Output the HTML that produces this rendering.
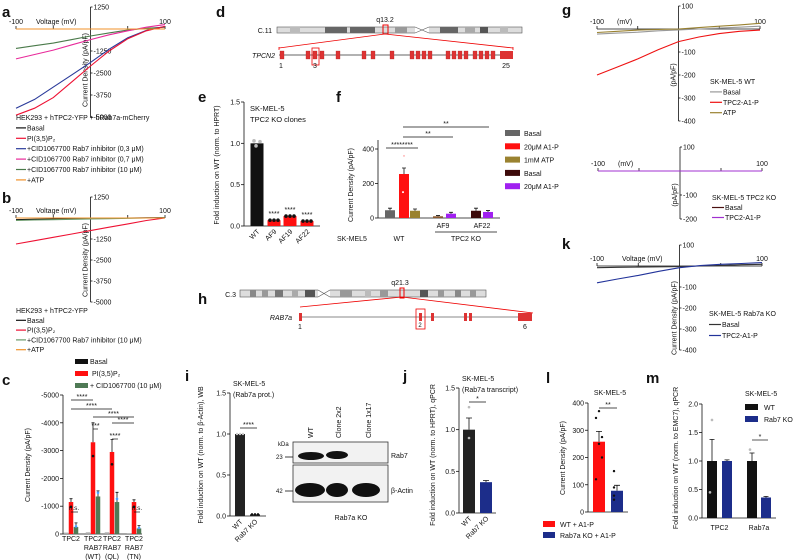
<!DOCTYPE html>
<html><head><meta charset="utf-8"><style>
html,body{margin:0;padding:0;background:#fff}
svg{display:block;font-family:"Liberation Sans",Arial,sans-serif}
text{fill:#111}
</style></head><body>
<svg id="fig" width="799" height="560" viewBox="0 0 799 560" xmlns="http://www.w3.org/2000/svg">
<g id="static">
<text x="2" y="17" font-size="15" font-weight="bold">a</text>
<text x="2" y="203" font-size="15" font-weight="bold">b</text>
<text x="2" y="385" font-size="15" font-weight="bold">c</text>
<text x="216" y="17" font-size="15" font-weight="bold">d</text>
<text x="198" y="102" font-size="15" font-weight="bold">e</text>
<text x="336" y="102" font-size="15" font-weight="bold">f</text>
<text x="562" y="15" font-size="15" font-weight="bold">g</text>
<text x="198" y="304" font-size="15" font-weight="bold">h</text>
<text x="185" y="381" font-size="15" font-weight="bold">i</text>
<text x="403" y="381" font-size="15" font-weight="bold">j</text>
<text x="562" y="249" font-size="15" font-weight="bold">k</text>
<text x="546" y="383" font-size="15" font-weight="bold">l</text>
<text x="646" y="383" font-size="15" font-weight="bold">m</text>

<g>
<text x="272" y="33" font-size="7" text-anchor="end">C.11</text>
<rect x="277" y="27" width="245" height="6" fill="#ddd" stroke="#555" stroke-width="0.6"/>
<rect x="290" y="27" width="10" height="6" fill="#bbb"/><rect x="325" y="27" width="22" height="6" fill="#666"/>
<rect x="350" y="27" width="25" height="6" fill="#666"/><rect x="395" y="27" width="12" height="6" fill="#999"/>
<rect x="440" y="27" width="18" height="6" fill="#666"/><rect x="465" y="27" width="10" height="6" fill="#aaa"/>
<rect x="480" y="27" width="8" height="6" fill="#555"/><rect x="500" y="27" width="8" height="6" fill="#bbb"/>
<rect x="415" y="26" width="14" height="8" fill="#fff"/>
<path d="M415 27 L429 33 M415 33 L429 27" stroke="#555" stroke-width="0.6"/>
<rect x="383" y="25" width="5" height="9" fill="none" stroke="#e00" stroke-width="1"/>
<text x="385" y="22" font-size="7" text-anchor="middle">q13.2</text>
<path d="M385 34 L279 48 M385 34 L513 48" stroke="#e00" stroke-width="0.8" fill="none"/>
<path d="M279 47 L279 50 M513 47 L513 50" stroke="#e00" stroke-width="0.8"/>
</g>
<text x="275" y="58" font-size="7" font-style="italic" text-anchor="end">TPCN2</text>
<g id="tpcn2"><line x1="279" y1="55" x2="513" y2="55" stroke="#666" stroke-width="1"/></g>
<rect x="312" y="48" width="7" height="17" fill="none" stroke="#e00" stroke-width="0.8"/>
<text x="281" y="68" font-size="7" text-anchor="middle">1</text><text x="315" y="68" font-size="7" text-anchor="middle">3</text><text x="506" y="68" font-size="7" text-anchor="middle">25</text>

<g>
<text x="236" y="297" font-size="7" text-anchor="end">C.3</text>
<rect x="240" y="290" width="246" height="7" fill="#ddd" stroke="#555" stroke-width="0.6"/>
<rect x="250" y="290" width="6" height="7" fill="#888"/><rect x="262" y="290" width="6" height="7" fill="#999"/>
<rect x="275" y="290" width="8" height="7" fill="#777"/><rect x="292" y="290" width="6" height="7" fill="#aaa"/>
<rect x="305" y="290" width="10" height="7" fill="#555"/><rect x="340" y="290" width="12" height="7" fill="#999"/>
<rect x="365" y="290" width="6" height="7" fill="#bbb"/><rect x="380" y="290" width="8" height="7" fill="#999"/>
<rect x="420" y="290" width="8" height="7" fill="#555"/><rect x="438" y="290" width="6" height="7" fill="#999"/>
<rect x="455" y="290" width="6" height="7" fill="#888"/><rect x="470" y="290" width="6" height="7" fill="#999"/>
<rect x="318" y="289" width="12" height="9" fill="#fff"/>
<path d="M318 290 L330 297 M318 297 L330 290" stroke="#555" stroke-width="0.6"/>
<rect x="400" y="288" width="4" height="10" fill="none" stroke="#e00" stroke-width="1"/>
<text x="400" y="285" font-size="7" text-anchor="middle">q21.3</text>
<path d="M402 297 L300 307 M402 297 L533 313" stroke="#e00" stroke-width="0.8" fill="none"/>
</g>
<text x="292" y="320" font-size="7" font-style="italic" text-anchor="end">RAB7a</text>
<line x1="300" y1="317" x2="532" y2="317" stroke="#888" stroke-width="1"/>
<rect x="299" y="313" width="3" height="8" fill="#d33"/><rect x="419" y="313" width="3" height="8" fill="#d33"/>
<rect x="431" y="313" width="3" height="8" fill="#d33"/><rect x="464" y="313" width="3" height="8" fill="#d33"/>
<rect x="469" y="313" width="3" height="8" fill="#d33"/><rect x="518" y="313" width="14" height="8" fill="#d33"/>
<rect x="416" y="309" width="9" height="20" fill="none" stroke="#e00" stroke-width="0.8"/>
<text x="300" y="329" font-size="7" text-anchor="middle">1</text><text x="420" y="327" font-size="6" text-anchor="middle">2</text><text x="525" y="329" font-size="7" text-anchor="middle">6</text>

<g>
<rect x="293" y="442" width="95" height="21" fill="#f2f2f2" stroke="#333" stroke-width="0.8"/>
<rect x="293" y="465" width="95" height="37" fill="#f2f2f2" stroke="#333" stroke-width="0.8"/>
<ellipse cx="311" cy="456" rx="13" ry="4" fill="#111"/><ellipse cx="337" cy="455" rx="11" ry="4" fill="#111"/>
<ellipse cx="310" cy="490" rx="15" ry="7" fill="#111"/><ellipse cx="337" cy="490" rx="11" ry="7" fill="#111"/><ellipse cx="366" cy="490" rx="14" ry="7" fill="#111"/>
<text x="278" y="446" font-size="6">kDa</text>
<text x="276" y="459" font-size="6">23</text><line x1="285" y1="457" x2="293" y2="457" stroke="#111" stroke-width="0.8"/>
<text x="276" y="493" font-size="6">42</text><line x1="285" y1="491" x2="293" y2="491" stroke="#111" stroke-width="0.8"/>
<text x="391" y="458" font-size="7">Rab7</text><text x="391" y="493" font-size="7">β-Actin</text>
<text x="351" y="520" font-size="7" text-anchor="middle">Rab7a KO</text>
<text transform="translate(313,438) rotate(-90)" font-size="7">WT</text>
<text transform="translate(341,438) rotate(-90)" font-size="7">Clone 2x2</text>
<text transform="translate(371,438) rotate(-90)" font-size="7">Clone 1x17</text>
</g>
</g>
<g id="dyn"></g>
</svg>
<script>
const ivVoltage = [-100,-75,-50,-25,0,25,50,75,100];
const aBasal = [0,0,0,0,0,0,0,0,0];
const aPI = [-4900,-4500,-3900,-3000,-2100,-1250,-550,-100,150];
const aCid03 = [-4500,-4000,-3300,-2600,-1900,-1150,-500,-80,150];
const aCid07 = [-1700,-1450,-1200,-900,-600,-330,-100,100,250];
const aCid10 = [-1100,-950,-800,-600,-400,-220,-60,40,100];
const aATP = [0,0,0,0,0,0,0,0,0];
const bBasal = [-100,-80,-60,-40,-20,-10,0,10,20];
const bPI = [-1550,-1350,-1150,-950,-750,-550,-350,-150,0];
const bCid = [-150,-120,-100,-80,-60,-40,-20,0,10];
const bATP = [0,0,0,0,0,0,0,0,0];
const gBasal = [-22,-18,-14,-8,-4,0,4,8,12];
const gA1P = [-200,-165,-130,-90,-55,-35,-20,-10,-5];
const gATP = [-15,-10,-5,-2,0,6,12,18,25];
const g2Basal = [0,0,0,0,0,0,0,0,0];
const g2A1P = [0,0,0,0,0,0,0,0,0];
const kBasal = [-8,-6,-5,-4,-3,0,3,6,8];
const kA1P = [-80,-62,-45,-25,-8,2,8,12,16];

const cGroups = ["TPC2","TPC2|RAB7|(WT)","TPC2|RAB7|(QL)","TPC2|RAB7|(TN)"];
const cBasal = [50,60,60,30];
const cPI = [1150,3300,2950,1150];
const cCid = [250,1350,1150,200];
const cPIerr = [120,700,450,80];
const cCidErr = [150,200,350,100];
const cTicks = [0,-1000,-2000,-3000,-4000,-5000];

const eCats = ["WT","AF9","AF19","AF22"];
const eVals = [1.0,0.07,0.12,0.06];
const eTicks = ["0.0","0.5","1.0","1.5"];

const fCats = ["WT","AF9","AF22"];
const fVals = [[45,255,42],[10,25],[42,35]];
const fErr = [[12,35,10],[4,8],[15,8]];
const fTicks = [0,200,400];

const iCats = ["WT","Rab7 KO"];
const iVals = [1.0,0.02];
const jCats = ["WT","Rab7 KO"];
const jVals = [1.0,0.37];
const jErr = [0.14,0.02];
const lVals = [258,78];
const lErr = [38,20];
const lTicks = [0,100,200,300,400];
const mCats = ["TPC2","Rab7a"];
const mWT = [1.0,1.0];
const mKO = [1.0,0.36];
const mWTerr = [0.38,0.14];
const mKOerr = [0.02,0.02];
const mTicks = ["0.0","0.5","1.0","1.5","2.0"];

const NS="http://www.w3.org/2000/svg";
const root=document.getElementById('dyn');
function mk(tag,attrs,parent){const e=document.createElementNS(NS,tag);for(const k in attrs)e.setAttribute(k,attrs[k]);(parent||root).appendChild(e);return e;}
function txt(x,y,s,size,anchor,extra){const t=mk('text',Object.assign({x:x,y:y,'font-size':size||7,'text-anchor':anchor||'start'},extra||{}));t.textContent=s;return t;}
function lin(a,b,c,d){return (v)=>c+(v-a)*(d-c)/(b-a);}

function ivPanel(o){
  const X=lin(-100,100,o.x0,o.x1), Y=lin(0,o.ymax,o.y0,o.ytop);
  const ax=mk('g',{});
  
  
  mk('line',{x1:X(-100),y1:o.y0,x2:X(100),y2:o.y0,stroke:'#111','stroke-width':0.8},ax);
  mk('line',{x1:X(0),y1:Y(o.ymax),x2:X(0),y2:Y(o.ymin),stroke:'#111','stroke-width':0.8},ax);
  [-100,-50,50,100].forEach(v=>mk('line',{x1:X(v),y1:o.y0,x2:X(v),y2:o.y0-3,stroke:'#111','stroke-width':0.8},ax));
  o.yticks.forEach(v=>{mk('line',{x1:X(0),y1:Y(v),x2:X(0)+2,y2:Y(v),stroke:'#111','stroke-width':0.8},ax);
    const t=txt(X(0)+3,Y(v)+2.5,String(v),7);
    
    });
  txt(X(-100),o.y0-5,'-100',7,'middle');
  txt(X(100),o.y0-5,'100',7,'middle');
  txt(o.vx,o.y0-5,o.vlabel,7,'start');
  if(o.ytitle){const t=txt(0,0,o.ytitle,7,'middle',{transform:`translate(${X(0)-3},${o.ytc}) rotate(-90)`});
    
    }
  o.series.forEach(s=>{
    const d=ivVoltage.map((v,i)=>(i?'L':'M')+X(v).toFixed(1)+' '+Y(s.v[i]).toFixed(1)).join(' ');
    const p=mk('path',{d:d,fill:'none',stroke:s.c,'stroke-width':1.1});
    
    
  });
}
ivPanel({name:'a',x0:16,x1:165,y0:29,ytop:7,ymax:1250,ymin:-5000,yticks:[1250,-1250,-2500,-3750,-5000],vx:36,vlabel:'Voltage (mV)',ytitle:'Current Density (pA/pF)',ytc:70,
 series:[{n:'basal',c:'#111',v:aBasal},{n:'cid10',c:'#4a7a4a',v:aCid10},{n:'cid07',c:'#e8299a',v:aCid07},{n:'cid03',c:'#2a3a9a',v:aCid03},{n:'pi',c:'#ee1133',v:aPI},{n:'atp',c:'#f0922a',v:aATP}]});
ivPanel({name:'b',x0:16,x1:165,y0:218,ytop:197,ymax:1250,ymin:-5000,yticks:[1250,-1250,-2500,-3750,-5000],vx:36,vlabel:'Voltage (mV)',ytitle:'Current Density (pA/pF)',ytc:260,
 series:[{n:'basal',c:'#111',v:bBasal},{n:'cid',c:'#6a9a6a',v:bCid},{n:'pi',c:'#ee1133',v:bPI},{n:'atp',c:'#f0922a',v:bATP}]});
ivPanel({name:'g-wt',x0:597,x1:760,y0:29,ytop:6,ymax:100,ymin:-400,yticks:[100,-100,-200,-300,-400],vx:617,vlabel:'(mV)',ytitle:'(pA/pF)',ytc:75,
 series:[{n:'basal',c:'#999',v:gBasal},{n:'a1p',c:'#ee1111',v:gA1P},{n:'atp',c:'#9a8230',v:gATP}]});
ivPanel({name:'g-ko',x0:598,x1:762,y0:171,ytop:147,ymax:100,ymin:-200,yticks:[100,-100,-200],vx:618,vlabel:'(mV)',ytitle:'(pA/pF)',ytc:195,
 series:[{n:'basal',c:'#4a1010',v:g2Basal},{n:'a1p',c:'#a030d0',v:g2A1P}]});
ivPanel({name:'k',x0:597,x1:762,y0:266,ytop:245,ymax:100,ymin:-400,yticks:[100,-100,-200,-300,-400],vx:622,vlabel:'Voltage (mV)',ytitle:'Current Density (pA/pF)',ytc:318,
 series:[{n:'basal',c:'#333',v:kBasal},{n:'a1p',c:'#22339a',v:kA1P}]});

function lineLegend(x,y,title,items,dy,lw){
  if(title)txt(x,y,title,7);
  items.forEach((it,i)=>{const yy=y+(i+1)*dy;
    const l=mk('line',{x1:x,y1:yy-2.5,x2:x+lw,y2:yy-2.5,stroke:it[1],'stroke-width':1.2});
    
    
    const t=txt(x+lw+1,yy,it[0],7);
    
    });
}
lineLegend(16,120,'HEK293 + hTPC2-YFP + hRab7a-mCherry',[['Basal','#111'],['PI(3,5)P₂','#ee1133'],['+CID1067700 Rab7 inhibitor (0,3 μM)','#2a3a9a'],['+CID1067700 Rab7 inhibitor (0,7 μM)','#e8299a'],['+CID1067700 Rab7 inhibitor (10 μM)','#4a7a4a'],['+ATP','#f0922a']],10.4,10);
lineLegend(16,313,'HEK293 + hTPC2-YFP',[['Basal','#111'],['PI(3,5)P₂','#ee1133'],['+CID1067700 Rab7 inhibitor (10 μM)','#6a9a6a'],['+ATP','#f0922a']],9.8,10);
lineLegend(710,84,'SK-MEL-5 WT',[['Basal','#999'],['TPC2-A1-P','#ee1111'],['ATP','#9a8230']],10.4,12);
lineLegend(712,200,'SK-MEL-5 TPC2 KO',[['Basal','#4a1010'],['TPC2-A1-P','#a030d0']],10,12);
lineLegend(709,316,'SK-MEL-5 Rab7a KO',[['Basal','#333'],['TPC2-A1-P','#22339a']],11,12);

function yAxis(x,y0,y1,ticks,labels,name){
  mk('line',{x1:x,y1:y0,x2:x,y2:y1,stroke:'#111','stroke-width':0.8});
  ticks.forEach((yy,i)=>{mk('line',{x1:x-3,y1:yy,x2:x,y2:yy,stroke:'#111','stroke-width':0.8});
    const t=txt(x-4,yy+2.5,labels[i],7,'end');
    
    });
}
function bar(x,w,y,yb,fill,name){const r=mk('rect',{x:x-w/2,y:Math.min(y,yb),width:w,height:Math.abs(yb-y),fill:fill});
  
  return r;}
function err(x,y,e,w){mk('path',{d:`M${x} ${y} L${x} ${e} M${x-w} ${e} L${x+w} ${e}`,stroke:'#111','stroke-width':0.8,fill:'none'});}
function sig(x1,x2,y,s){mk('line',{x1:x1,y1:y,x2:x2,y2:y,stroke:'#111','stroke-width':0.7});txt((x1+x2)/2,y-1,s,7,'middle');}
function rot(x,y,s,ang,size,anchor){return txt(0,0,s,size||7,anchor||'end',{transform:`translate(${x},${y}) rotate(${ang})`});}

(function(){
  const Y=lin(0,-5000,534,395);
  yAxis(63,395,534,cTicks.map(Y),cTicks.map(String),'c');
  mk('line',{x1:63,y1:534,x2:142,y2:534,stroke:'#111','stroke-width':0.8});
  const t=rot(30,465,'Current Density (pA/pF)',-90,7,'middle');
  
  
  const cx=[71,93,112,134];
  cGroups.forEach((g,i)=>{
    bar(cx[i]-5,4.5,Y(-cBasal[i]),534,'#aaa','c-bar-basal');
    bar(cx[i],4.5,Y(-cPI[i]),534,'#ff1010','c-bar-pi');
    bar(cx[i]+5,4.5,Y(-cCid[i]),534,'#4f7a55','c-bar-cid');
    err(cx[i],Y(-cPI[i]),Y(-cPI[i]-cPIerr[i]),1.5);
    err(cx[i]+5,Y(-cCid[i]),Y(-cCid[i]-cCidErr[i]),1.5);
    mk('circle',{cx:cx[i],cy:Y(-cPI[i]*0.85),r:1.3,fill:'#111'});
    mk('circle',{cx:cx[i]+5,cy:Y(-cCid[i]*1.1),r:1.3,fill:'#4aa0ff'});
    g.split('|').forEach((s,k)=>txt(cx[i],541+k*9,s,7,'middle'));
  });
  txt(74,510,'n.s.',6.5,'middle'); mk('line',{x1:71,y1:512,x2:78,y2:512,stroke:'#111','stroke-width':0.7});
  txt(137,510,'n.s.',6.5,'middle'); mk('line',{x1:134,y1:512,x2:140,y2:512,stroke:'#111','stroke-width':0.7});
  sig(71,93,400,'****');sig(71,112,409,'****');sig(93,134,417,'****');sig(112,134,423,'****');
  sig(93,98,429,'***');sig(112,118,439,'****');
  [['Basal','#111',364],['PI(3,5)P₂','#ff1010',376],['+ CID1067700 (10 μM)','#4f7a55',388]].forEach(l=>{
    const r=mk('rect',{x:75,y:l[2]-5,width:13,height:5,fill:l[1]});
    
    
    txt(l[0]==='PI(3,5)P₂'?92:90,l[2],l[0],7);});
})();

(function(){
  const g=document.getElementById('tpcn2');
  [282,308,315,322,338,364,373,392,412,418,424,430,448,454,460,466,475,481,487,493].forEach(x=>mk('rect',{x:x-2,y:51,width:4,height:8,fill:'#d33',stroke:'#a22','stroke-width':0.3},g));
  mk('rect',{x:500,y:51,width:13,height:8,fill:'#d33'},g);
})();

(function(){
  const Y=lin(0,1.5,226,102);
  yAxis(244,102,226,[0,0.5,1,1.5].map(Y),eTicks,'e');
  mk('line',{x1:244,y1:226,x2:320,y2:226,stroke:'#111','stroke-width':0.8});
  const cx=[257,274,290,307];
  eCats.forEach((c,i)=>{
    bar(cx[i],13,Y(eVals[i]),226,i?'#ff1010':'#111','e-bar-'+c);
    if(i){txt(cx[i],Y(eVals[i])-4,'****',7,'middle');
      [-4,0,4].forEach(d=>mk('circle',{cx:cx[i]+d,cy:Y(eVals[i]),r:1.8,fill:'#111'}));}
    else{mk('circle',{cx:254,cy:Y(1.03),r:1.8,fill:'#bbb'});mk('circle',{cx:260,cy:Y(1.02),r:1.8,fill:'#bbb'});mk('circle',{cx:256,cy:Y(0.97),r:1.8,fill:'#bbb'});}
    rot(cx[i]+3,232,c,-45,7,'end');
  });
  txt(250,111,'SK-MEL-5',7.5);txt(250,122,'TPC2 KO clones',7.5);
  const t=rot(219,165,'Fold induction on WT (norm. to HPRT)',-90,7,'middle');
  
  
})();

(function(){
  const Y=lin(0,400,218,149);
  yAxis(378,140,218,fTicks.map(Y),fTicks.map(String),'f');
  mk('line',{x1:378,y1:218,x2:500,y2:218,stroke:'#111','stroke-width':0.8});
  const cols=[['#666','#ff1010','#9a8230'],['#8a5a30','#a020f0'],['#3d0a0a','#a020f0']];
  const xs=[[390,404,415],[438,451],[476,488]];
  fCats.forEach((c,i)=>{fVals[i].forEach((v,k)=>{
    bar(xs[i][k],10,Y(v),218,cols[i][k],'f-bar-'+c+'-'+k);
    err(xs[i][k],Y(v),Y(v+fErr[i][k]),2);});});
  mk('circle',{cx:404,cy:Y(360),r:1,fill:'#fbb'});mk('circle',{cx:403,cy:Y(150),r:1,fill:'#fff'});
  txt(443,228,'AF9',7,'middle');txt(482,228,'AF22',7,'middle');
  mk('line',{x1:435,y1:232,x2:497,y2:232,stroke:'#111','stroke-width':0.7});
  txt(337,241,'SK-MEL5',7);txt(399,241,'WT',7,'middle');txt(466,241,'TPC2 KO',7,'middle');
  sig(386,418,148,'********');sig(403,453,137,'**');sig(403,489,127,'**');
  const t=rot(353,185,'Current Density (pA/pF)',-90,7,'middle');
  
  
  [['Basal','#666'],['20μM A1-P','#ff1010'],['1mM ATP','#9a8230'],['Basal','#3d0a0a'],['20μM A1-P','#a020f0']].forEach((l,i)=>{
    const y=136+i*13.3;
    const r=mk('rect',{x:505,y:y-6,width:15,height:6,fill:l[1]});
    
    
    txt(524,y,l[0],7);});
})();

(function(){
  const Y=lin(0,1.5,516,393);
  yAxis(230,393,516,[0,0.5,1,1.5].map(Y),['0.0','0.5','1.0','1.5'],'i');
  mk('line',{x1:230,y1:516,x2:266,y2:516,stroke:'#111','stroke-width':0.8});
  const cx=[240,255];
  iCats.forEach((c,i)=>{bar(cx[i],10,Y(iVals[i]),516,'#222','i-bar-'+c);rot(cx[i]+3,522,c,-45,7,'end');
    [-3,0,3].forEach(d=>mk('circle',{cx:cx[i]+d,cy:Y(iVals[i]),r:1.2,fill:i?'#111':'#ccc'}));});
  sig(240,257,428,'****');
  txt(233,386,'SK-MEL-5',7);txt(233,397,'(Rab7a prot.)',7);
  const t=rot(203,455,'Fold induction on WT (norm. to β-Actin), WB',-90,7,'middle');
  
  
})();

(function(){
  const Y=lin(0,1.5,513,388);
  yAxis(459,388,513,[0,0.5,1,1.5].map(Y),['0.0','0.5','1.0','1.5'],'j');
  mk('line',{x1:459,y1:513,x2:496,y2:513,stroke:'#111','stroke-width':0.8});
  const cx=[469,486],cols=['#222','#1c2d8a'];
  jCats.forEach((c,i)=>{bar(cx[i],12,Y(jVals[i]),513,cols[i],'j-bar-'+c);err(cx[i],Y(jVals[i]),Y(jVals[i]+jErr[i]),3);rot(cx[i]+3,519,c,-45,7,'end');});
  mk('circle',{cx:469,cy:Y(1.27),r:1.3,fill:'#bbb'});mk('circle',{cx:469,cy:Y(0.9),r:1.3,fill:'#bbb'});
  sig(469,486,402,'*');
  txt(462,381,'SK-MEL-5',7);txt(462,392,'(Rab7a transcript)',7);
  const t=rot(435,455,'Fold induction on WT (norm. to HPRT), qPCR',-90,7,'middle');
  
  
})();

(function(){
  const Y=lin(0,400,512,403);
  yAxis(588,403,512,lTicks.map(Y),lTicks.map(String),'l');
  mk('line',{x1:588,y1:512,x2:628,y2:512,stroke:'#111','stroke-width':0.8});
  const cx=[599,617],cols=['#ff1010','#1c2d8a'];
  lVals.forEach((v,i)=>{bar(cx[i],12,Y(v),512,cols[i],'l-bar-'+i);err(cx[i],Y(v),Y(v+lErr[i]),3);});
  [370,345,275,250,200,120].forEach(v=>mk('circle',{cx:599+((v%3)-1)*3,cy:Y(v),r:1.2,fill:'#111'}));
  [150,90,60,45].forEach(v=>mk('circle',{cx:617+((v%3)-1)*3,cy:Y(v),r:1.2,fill:'#111'}));
  sig(599,617,408,'**');
  txt(610,395,'SK-MEL-5',7,'middle');
  const t=rot(565,458,'Current Density (pA/pF)',-90,7,'middle');
  
  
  [['WT + A1-P','#ff1010',527],['Rab7a KO + A1-P','#1c2d8a',538]].forEach(l=>{
    const r=mk('rect',{x:543,y:l[2]-6,width:12,height:6,fill:l[1]});
    
    
    txt(560,l[2],l[0],7);});
})();

(function(){
  const Y=lin(0,2,518,404);
  yAxis(702,404,518,[0,0.5,1,1.5,2].map(Y),mTicks,'m');
  mk('line',{x1:702,y1:518,x2:776,y2:518,stroke:'#111','stroke-width':0.8});
  const cw=[712,752],ck=[727,766];
  mCats.forEach((c,i)=>{
    bar(cw[i],10,Y(mWT[i]),518,'#111','m-bar-wt-'+c);err(cw[i],Y(mWT[i]),Y(mWT[i]+mWTerr[i]),2.5);
    bar(ck[i],10,Y(mKO[i]),518,'#1c2d8a','m-bar-ko-'+c);err(ck[i],Y(mKO[i]),Y(mKO[i]+mKOerr[i]),2.5);
    txt((cw[i]+ck[i])/2,530,c,7,'middle');});
  mk('circle',{cx:712,cy:Y(1.72),r:1.3,fill:'#bbb'});mk('circle',{cx:710,cy:Y(0.45),r:1.3,fill:'#bbb'});
  mk('circle',{cx:750,cy:Y(1.2),r:1.3,fill:'#bbb'});
  sig(752,768,440,'*');
  txt(745,396,'SK-MEL-5',7);
  [['WT','#111',410],['Rab7 KO','#1c2d8a',422]].forEach(l=>{
    const r=mk('rect',{x:745,y:l[2]-6,width:13,height:6,fill:l[1]});
    
    
    txt(764,l[2],l[0],7);});
  const t=rot(678,458,'Fold induction on WT (norm. to EMC7), qPCR',-90,7,'middle');
  
  
})();
</script>
</body></html>
